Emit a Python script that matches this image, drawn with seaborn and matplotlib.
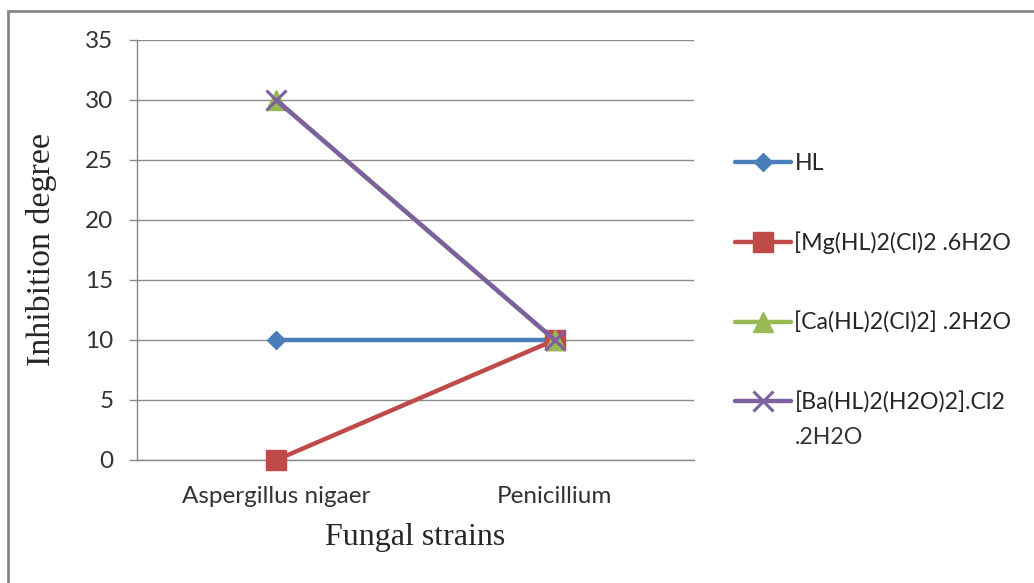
import pandas as pd
import seaborn as sns
import matplotlib.pyplot as plt
from matplotlib.patches import Rectangle

strains = ['Aspergillus nigaer', 'Penicillium']
hl = [10, 10]
mg = [0, 10]
ca = [30, 10]
ba = [30, 10]
labels = ['HL', '[Mg(HL)2(Cl)2 .6H2O', '[Ca(HL)2(Cl)2] .2H2O', '[Ba(HL)2(H2O)2].Cl2']
label_tail = '.2H2O'
colors = ['#4A7EBB', '#BE4B48', '#98B954', '#7D60A0']

sns.set_style('white')
plt.rcParams['font.family'] = ['Lato', 'DejaVu Sans']

fig = plt.figure(figsize=(10.34, 5.83), dpi=100)
ax = fig.add_axes([137 / 1034, 1 - 460 / 583, (694 - 137) / 1034, 420 / 583])

styles = [('D', 9, 1), ('s', 15, 1), ('^', 14, 1), ('x', 14, 2.2)]
for vals, lab, col, (mk, ms, mew) in zip([hl, mg, ca, ba], labels, colors, styles):
    sns.lineplot(x=[0, 1], y=vals, ax=ax, color=col, lw=3.2, marker=mk, markersize=ms,
                 markeredgewidth=mew, markeredgecolor=col, label=lab, clip_on=False, zorder=3)

ax.set_xlim(-0.5, 1.5)
ax.set_ylim(0, 35)
ax.set_yticks(range(0, 36, 5))
ax.set_xticks([0, 1])
ax.set_xticklabels(strains)
ax.set_xticks([-0.5, 0.5, 1.5], minor=True)
ax.tick_params(axis='x', which='major', length=0, pad=19, labelsize=17.5, colors='#333333')
ax.tick_params(axis='x', which='minor', length=6, width=1, color='#888888', direction='out')
ax.tick_params(axis='y', length=6, width=1, color='#888888', direction='out', pad=11,
               labelsize=17.5, labelcolor='#333333', left=True)
ax.grid(axis='y', color='#8C8C8C', lw=1)
ax.set_axisbelow(True)
for s in ['top', 'right']:
    ax.spines[s].set_visible(False)
for s in ['left', 'bottom']:
    ax.spines[s].set_color('#888888')
    ax.spines[s].set_linewidth(1)

ax.set_xlabel('Fungal strains', family='Liberation Serif', fontsize=23, labelpad=11)
ax.set_ylabel('Inhibition degree', family='Liberation Serif', fontsize=24.5, labelpad=20)

leg = ax.legend(loc='upper left', bbox_to_anchor=(726 / 1034, 1 - 144 / 583), bbox_transform=fig.transFigure,
                frameon=False, fontsize=16.7, labelspacing=2.48, handlelength=2.4, handletextpad=0.15,
                borderaxespad=0)

fig.canvas.draw()
bb = leg.get_texts()[3].get_window_extent().transformed(fig.transFigure.inverted())
fig.text(bb.x0, bb.y0 - 34 / 583, label_tail, fontsize=16.7, va='bottom', ha='left', color='#333333')

fig.patches.append(Rectangle((8 / 1034, -0.05), 1.1, 1 - 11 / 583 + 0.05, transform=fig.transFigure,
                             fill=False, edgecolor='#868686', lw=2))

fig.savefig('out.png', dpi=100)
